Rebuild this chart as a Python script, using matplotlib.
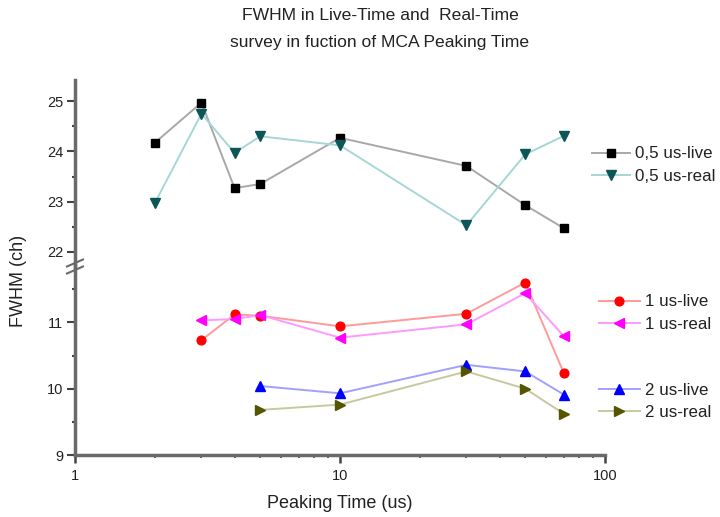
import matplotlib
matplotlib.use("Agg")
import matplotlib.pyplot as plt
from matplotlib.lines import Line2D

plt.rcParams['font.family'] = ['Liberation Sans', 'DejaVu Sans']

# ---- data ----
t_all = [2, 3, 4, 5, 10, 30, 50, 70]
live_05 = [24.17, 24.97, 23.27, 23.35, 24.27, 23.71, 22.93, 22.47]
real_05 = [22.97, 24.75, 23.97, 24.30, 24.12, 22.53, 23.94, 24.31]

t_1 = [3, 4, 5, 10, 30, 50, 70]
live_1 = [10.73, 11.12, 11.10, 10.94, 11.13, 11.60, 10.23]
real_1 = [11.03, 11.05, 11.11, 10.77, 10.97, 11.44, 10.79]

t_2 = [5, 10, 30, 50, 70]
live_2 = [10.04, 9.93, 10.36, 10.26, 9.91]
real_2 = [9.68, 9.76, 10.26, 10.00, 9.62]

labels = ["0,5 us-live", "0,5 us-real", "1 us-live", "1 us-real", "2 us-live", "2 us-real"]
x_ticks = [1, 10, 100]
up_ticks = [22, 23, 24, 25]
low_ticks = [9, 10, 11]

# ---- figure ----
fig = plt.figure(figsize=(7.2, 5.17), dpi=100)
L, R = 75/720, 605/720
def fy(px):
    return 1 - px/517
ax_up = fig.add_axes([L, fy(266), R-L, fy(80)-fy(266)])
ax_lo = fig.add_axes([L, fy(455), R-L, fy(266)-fy(455)])

spc = '#6a6a6a'
lw = 1.4

styles = [
    dict(color='#a8a8a8', marker='s', mfc='black', mec='black', ms=5.8),
    dict(color='#a6d6d6', marker='v', mfc='#0b5656', mec='#0b5656', ms=6.5),
    dict(color='#ff9a9a', marker='o', mfc='#ff0000', mec='#ff0000', ms=6.3),
    dict(color='#ff99ff', marker='<', mfc='#ff00ff', mec='#ff00ff', ms=6.5),
    dict(color='#a0a0ff', marker='^', mfc='#0000ff', mec='#0000ff', ms=6.5),
    dict(color='#c8c8a0', marker='>', mfc='#555500', mec='#555500', ms=6.5),
]

h = []
h += ax_up.plot(t_all, live_05, lw=lw, label=labels[0], **styles[0])
h += ax_up.plot(t_all, real_05, lw=lw, label=labels[1], **styles[1])
h += ax_lo.plot(t_1, live_1, lw=lw, label=labels[2], **styles[2])
h += ax_lo.plot(t_1, real_1, lw=lw, label=labels[3], **styles[3])
h += ax_lo.plot(t_2, live_2, lw=lw, label=labels[4], **styles[4])
h += ax_lo.plot(t_2, real_2, lw=lw, label=labels[5], **styles[5])

for ax in (ax_up, ax_lo):
    ax.set_xscale('log')
    ax.set_xlim(1, 100)
    for s in ('top', 'right'):
        ax.spines[s].set_visible(False)
    ax.spines['left'].set_color(spc)
    ax.spines['left'].set_linewidth(2.5)
    ax.tick_params(axis='y', which='major', length=5.5, width=1.5, color='#444444',
                   labelsize=10.5, pad=3, labelcolor='#222222')
    ax.tick_params(axis='y', which='minor', length=2.5, width=1.5, color='#444444')
    ax.patch.set_alpha(0)

ax_up.set_ylim(21.72, 25.42)
ax_up.set_yticks(up_ticks)
ax_up.set_yticks([22.5, 23.5, 24.5], minor=True)
ax_up.spines['bottom'].set_visible(False)
ax_up.tick_params(axis='x', which='both', bottom=False, labelbottom=False)

ax_lo.set_ylim(9, 11.85)
ax_lo.set_yticks(low_ticks)
ax_lo.set_xticks(x_ticks)
ax_lo.set_xticklabels([str(v) for v in x_ticks])
ax_lo.spines['bottom'].set_color(spc)
ax_lo.spines['bottom'].set_linewidth(2.5)
ax_lo.tick_params(axis='x', which='major', length=6, width=1.8, color='#444444',
                  labelsize=10.5, pad=4, labelcolor='#222222')
ax_lo.tick_params(axis='x', which='minor', length=2.5, width=1.2, color='#444444')
ax_lo.minorticks_on()
ax_lo.set_yticks([9.5, 10.5, 11.5], minor=True)

# break marks
for yy in (263, 270):
    fig.add_artist(Line2D([67/720, 83/720], [fy(yy + 3.5), fy(yy - 3.5)],
                          color=spc, lw=1.5, transform=fig.transFigure))

# labels
fig.text(380/720, fy(16), "FWHM in Live-Time and  Real-Time", ha='center', va='center',
         fontsize=12.6, color='#222222')
fig.text(380/720, fy(42), "survey in fuction of MCA Peaking Time", ha='center', va='center',
         fontsize=12.6, color='#222222')
fig.text(19/720, fy(281), "FWHM (ch)", rotation=90, ha='center', va='center',
         fontsize=13, color='#222222')
fig.text(340/720, fy(504), "Peaking Time (us)", ha='center', va='center',
         fontsize=13, color='#222222')

# legends
legkw = dict(frameon=False, fontsize=12.2, handletextpad=0.3,
             labelspacing=0.42, borderaxespad=0, borderpad=0, labelcolor='#222222')
lg1 = fig.legend(h[0:2], labels[0:2], loc='center left', handlelength=2.25,
                 bbox_to_anchor=(592/720, fy(165)), **legkw)
lg2 = fig.legend(h[2:4], labels[2:4], loc='center left', handlelength=2.4,
                 bbox_to_anchor=(599/720, fy(313)), **legkw)
lg3 = fig.legend(h[4:6], labels[4:6], loc='center left', handlelength=2.4,
                 bbox_to_anchor=(599/720, fy(401.5)), **legkw)

fig.savefig("out.png", dpi=100)
